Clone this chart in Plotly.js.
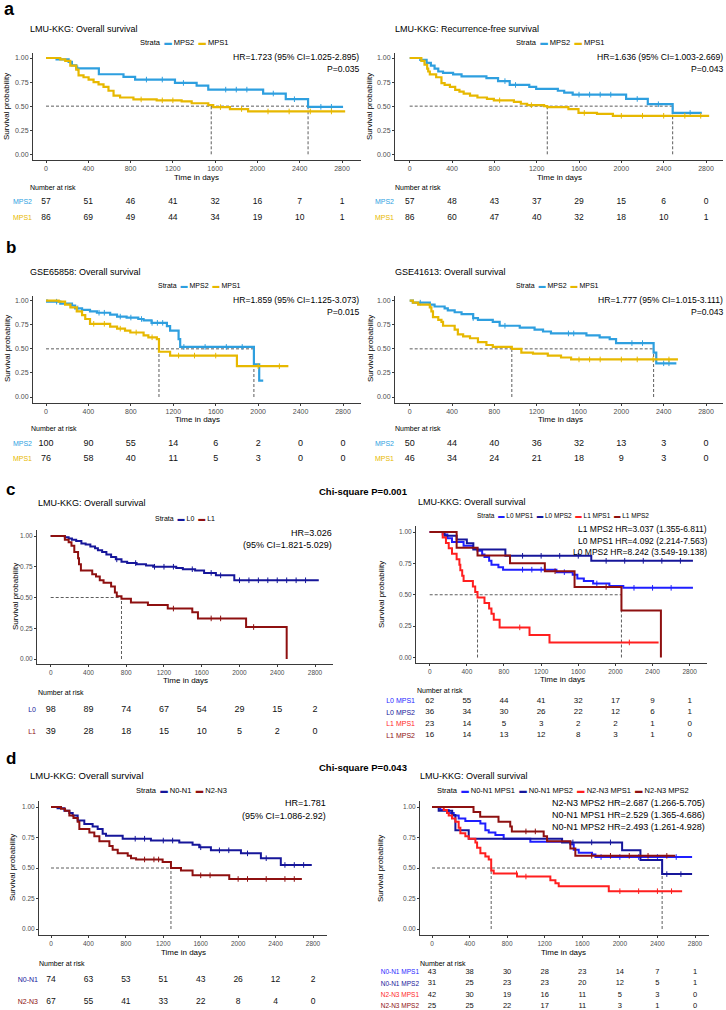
<!DOCTYPE html>
<html><head><meta charset="utf-8">
<script src="https://cdn.plot.ly/plotly-3.0.1.min.js"></script>
<style>html,body{margin:0;padding:0;background:#fff}#chart{width:726px;height:1010px}</style>
</head><body><div id="chart"></div>
<script>
// ---------------- DATA ----------------
const riskTimes = [0, 400, 800, 1200, 1600, 2000, 2400, 2800];
const yTicks = [0, 0.25, 0.5, 0.75, 1];

// a-left: LMU-KKG overall survival
const aL_MPS2_t = [0, 100, 214, 245, 286, 500, 733, 843, 1220, 1425, 1535, 2054, 2268, 2479, 2810];
const aL_MPS2_s = [1.00, 0.986, 0.96, 0.924, 0.893, 0.831, 0.803, 0.776, 0.741, 0.714, 0.672, 0.631, 0.572, 0.493, 0.493];
const aL_MPS2_c = [300, 950, 1100, 1300, 1700, 1800, 1900, 2150, 2350, 2600, 2700];
const aL_MPS1_t = [0, 135, 182, 230, 286, 308, 355, 403, 450, 497, 544, 591, 639, 701, 827, 1047, 1283, 1378, 1535, 1582, 1740, 1912, 2830];
const aL_MPS1_s = [1.00, 0.986, 0.97, 0.92, 0.88, 0.82, 0.80, 0.776, 0.75, 0.727, 0.70, 0.66, 0.61, 0.59, 0.57, 0.56, 0.55, 0.53, 0.51, 0.49, 0.47, 0.445, 0.445];
const aL_MPS1_c = [900, 1100, 1200, 1650, 1850, 2100, 2300, 2500, 2700];
const aL_risk_MPS2 = [57, 51, 46, 41, 32, 16, 7, 1];
const aL_risk_MPS1 = [86, 69, 49, 44, 34, 19, 10, 1];
const aL_medians = [1563, 2479];

// a-right: LMU-KKG recurrence-free survival
const aR_MPS2_t = [0, 100, 160, 200, 235, 270, 315, 410, 490, 725, 835, 945, 1130, 1195, 1400, 1460, 1540, 2045, 2250, 2485, 2760];
const aR_MPS2_s = [1.00, 0.98, 0.95, 0.92, 0.89, 0.86, 0.845, 0.83, 0.81, 0.79, 0.76, 0.72, 0.70, 0.68, 0.66, 0.64, 0.62, 0.575, 0.52, 0.43, 0.43];
const aR_MPS2_c = [900, 1000, 1600, 1700, 1800, 1900, 2150, 2350, 2650];
const aR_MPS1_t = [0, 110, 140, 165, 175, 190, 250, 300, 330, 380, 430, 470, 510, 570, 640, 730, 795, 985, 1050, 1110, 1270, 1300, 1500, 1595, 1770, 1920, 2830];
const aR_MPS1_s = [1.00, 0.97, 0.93, 0.89, 0.86, 0.83, 0.80, 0.74, 0.72, 0.70, 0.67, 0.65, 0.63, 0.61, 0.59, 0.575, 0.56, 0.545, 0.525, 0.51, 0.50, 0.49, 0.47, 0.43, 0.42, 0.40, 0.40];
const aR_MPS1_c = [850, 1150, 1650, 2000, 2200, 2400, 2600, 2750];
const aR_risk_MPS2 = [57, 48, 43, 37, 29, 15, 6, 0];
const aR_risk_MPS1 = [86, 60, 47, 40, 32, 18, 10, 1];
const aR_medians = [1300, 2485];

// b-left: GSE65858 overall survival
const bL_MPS2_t = [0, 10, 135, 245, 275, 340, 415, 480, 605, 670, 760, 870, 920, 995, 1140, 1170, 1250, 1265, 1960, 2010, 2048];
const bL_MPS2_s = [1.00, 0.99, 0.97, 0.95, 0.92, 0.905, 0.89, 0.875, 0.855, 0.835, 0.825, 0.81, 0.795, 0.77, 0.735, 0.69, 0.60, 0.52, 0.34, 0.17, 0.17];
const bL_MPS2_c = [100, 300, 500, 550, 700, 800, 900, 1000, 1050, 1100, 1300, 1500, 1700, 1850];
const bL_MPS1_t = [0, 120, 180, 230, 290, 340, 370, 415, 605, 670, 745, 795, 920, 965, 1045, 1065, 1170, 1800, 2285];
const bL_MPS1_s = [1.00, 0.99, 0.96, 0.93, 0.89, 0.85, 0.81, 0.76, 0.73, 0.71, 0.69, 0.67, 0.64, 0.62, 0.60, 0.47, 0.43, 0.32, 0.32];
const bL_MPS1_c = [450, 550, 700, 850, 1000, 1250, 1400, 1600, 2000, 2200];
const bL_risk_MPS2 = [100, 90, 55, 14, 6, 2, 0, 0];
const bL_risk_MPS1 = [76, 58, 40, 11, 5, 3, 0, 0];
const bL_medians = [1065, 1960];

// b-right: GSE41613 overall survival
const bR_MPS2_t = [0, 30, 190, 235, 330, 360, 425, 490, 600, 645, 785, 850, 1040, 1180, 1260, 1335, 1670, 1795, 1890, 1950, 2305, 2330, 2520];
const bR_MPS2_s = [1.00, 0.98, 0.96, 0.94, 0.92, 0.90, 0.88, 0.86, 0.82, 0.80, 0.78, 0.74, 0.72, 0.70, 0.68, 0.66, 0.64, 0.62, 0.60, 0.56, 0.46, 0.35, 0.35];
const bR_MPS2_c = [100, 600, 900, 1500, 1550, 2100, 2200, 2400, 2450];
const bR_MPS1_t = [0, 30, 80, 190, 205, 220, 270, 300, 315, 425, 455, 505, 570, 645, 725, 785, 965, 1055, 1165, 1305, 1430, 1525, 2535];
const bR_MPS1_s = [1.00, 0.98, 0.96, 0.93, 0.89, 0.83, 0.80, 0.78, 0.74, 0.70, 0.65, 0.63, 0.61, 0.57, 0.54, 0.52, 0.50, 0.46, 0.45, 0.43, 0.41, 0.39, 0.39];
const bR_MPS1_c = [1600, 1700, 1800, 2000, 2150, 2300, 2450];
const bR_risk_MPS2 = [50, 44, 40, 36, 32, 13, 3, 0];
const bR_risk_MPS1 = [46, 34, 24, 21, 18, 9, 3, 0];
const bR_medians = [965, 2305];

// c-left: LMU-KKG OS by L status
const cL_L0_t = [0, 150, 190, 225, 270, 325, 370, 420, 470, 500, 545, 590, 640, 690, 750, 810, 910, 1010, 1085, 1330, 1400, 1530, 1625, 1750, 1945, 2840];
const cL_L0_s = [1.00, 0.99, 0.98, 0.97, 0.96, 0.94, 0.93, 0.915, 0.90, 0.885, 0.87, 0.85, 0.83, 0.81, 0.79, 0.78, 0.77, 0.76, 0.75, 0.74, 0.73, 0.72, 0.70, 0.68, 0.64, 0.64];
const cL_L0_c = [700, 900, 1100, 1200, 1300, 1500, 1700, 1800, 2000, 2100, 2200, 2300, 2400, 2500, 2600, 2700];
const cL_L1_t = [0, 150, 190, 220, 250, 290, 300, 320, 440, 480, 520, 560, 640, 680, 700, 750, 850, 1030, 1240, 1500, 1560, 2070, 2500];
const cL_L1_s = [1.00, 0.97, 0.95, 0.92, 0.87, 0.82, 0.77, 0.72, 0.69, 0.67, 0.64, 0.62, 0.59, 0.54, 0.51, 0.49, 0.46, 0.44, 0.41, 0.38, 0.33, 0.26, 0.00];
const cL_L1_c = [1300, 1700, 1800, 2150];
const cL_risk_L0 = [98, 89, 74, 67, 54, 29, 15, 2];
const cL_risk_L1 = [39, 28, 18, 15, 10, 5, 2, 0];
const cL_medians = [750];

// c-right: LMU-KKG OS by L status and MPS
const cR_L0M1_t = [0, 140, 190, 240, 365, 465, 515, 565, 590, 640, 665, 740, 790, 1365, 1540, 1590, 1660, 1760, 1935, 2085, 2835];
const cR_L0M1_s = [1.00, 0.98, 0.95, 0.92, 0.89, 0.87, 0.85, 0.82, 0.80, 0.77, 0.74, 0.72, 0.70, 0.68, 0.66, 0.63, 0.61, 0.59, 0.57, 0.555, 0.555];
const cR_L0M1_c = [1000, 1100, 1200, 1450, 1800, 2200, 2400, 2600];
const cR_L0M2_t = [0, 160, 290, 400, 470, 815, 1740, 2835];
const cR_L0M2_s = [1.00, 0.97, 0.94, 0.91, 0.86, 0.81, 0.77, 0.77];
const cR_L0M2_c = [1000, 1200, 1400, 1600, 1900, 2100, 2300, 2500, 2700];
const cR_L1M1_t = [0, 140, 175, 205, 240, 290, 320, 330, 350, 365, 465, 490, 515, 590, 640, 665, 690, 753, 1075, 1290, 2465];
const cR_L1M1_s = [1.00, 0.957, 0.913, 0.870, 0.826, 0.783, 0.739, 0.696, 0.652, 0.609, 0.565, 0.522, 0.478, 0.435, 0.391, 0.348, 0.30, 0.24, 0.18, 0.12, 0.12];
const cR_L1M1_c = [970, 2150];
const cR_L1M2_t = [0, 290, 515, 865, 1240, 1560, 2065, 2490];
const cR_L1M2_s = [1.00, 0.875, 0.8125, 0.75, 0.6875, 0.5625, 0.375, 0.00];
const cR_L1M2_c = [1350, 1900];
const cR_risk_L0M1 = [62, 55, 44, 41, 32, 17, 9, 1];
const cR_risk_L0M2 = [36, 34, 30, 26, 22, 12, 6, 1];
const cR_risk_L1M1 = [23, 14, 5, 3, 2, 2, 1, 0];
const cR_risk_L1M2 = [16, 14, 13, 12, 8, 3, 1, 0];
const cR_medians = [515, 2065];

// d-left: LMU-KKG OS by N stage
const dL_N01_t = [0, 70, 143, 196, 232, 285, 356, 445, 499, 552, 588, 766, 1068, 1371, 1513, 1584, 1709, 2030, 2243, 2456, 2787];
const dL_N01_s = [1.00, 0.99, 0.97, 0.95, 0.93, 0.89, 0.86, 0.84, 0.82, 0.78, 0.765, 0.74, 0.725, 0.71, 0.69, 0.67, 0.645, 0.62, 0.58, 0.525, 0.525];
const dL_N01_c = [900, 1000, 1200, 1300, 1600, 1800, 1900, 2100, 2300, 2500, 2600, 2700];
const dL_N23_t = [0, 107, 150, 196, 240, 285, 303, 410, 463, 517, 624, 659, 713, 820, 855, 909, 1193, 1282, 1389, 1513, 1905, 2681];
const dL_N23_s = [1.00, 0.985, 0.97, 0.93, 0.91, 0.88, 0.82, 0.79, 0.76, 0.72, 0.68, 0.65, 0.62, 0.60, 0.58, 0.57, 0.55, 0.50, 0.48, 0.44, 0.41, 0.41];
const dL_N23_c = [1000, 1100, 1150, 1600, 1700, 2000, 2100, 2300, 2500, 2600];
const dL_risk_N01 = [74, 63, 53, 51, 43, 26, 12, 2];
const dL_risk_N23 = [67, 55, 41, 33, 22, 8, 4, 0];
const dL_medians = [1282];

// d-right: LMU-KKG OS by N stage and MPS
const dR_N01M1_t = [0, 89, 178, 231, 284, 355, 515, 568, 604, 675, 763, 1047, 1473, 1509, 1562, 1704, 1740, 2769];
const dR_N01M1_s = [1.00, 0.975, 0.95, 0.93, 0.905, 0.886, 0.864, 0.81, 0.79, 0.77, 0.74, 0.715, 0.695, 0.65, 0.625, 0.61, 0.59, 0.59];
const dR_N01M1_c = [1800, 2000, 2200, 2400, 2600];
const dR_N01M2_t = [0, 71, 215, 249, 391, 1385, 2024, 2219, 2450, 2769];
const dR_N01M2_s = [1.00, 0.97, 0.935, 0.81, 0.74, 0.71, 0.645, 0.565, 0.45, 0.45];
const dR_N01M2_c = [1500, 1700, 1900, 2500, 2650];
const dR_N23M1_t = [0, 125, 160, 178, 213, 249, 284, 302, 355, 391, 462, 480, 515, 568, 604, 630, 657, 905, 1260, 1314, 1349, 1882, 2663];
const dR_N23M1_s = [1.00, 0.976, 0.95, 0.93, 0.905, 0.88, 0.83, 0.785, 0.76, 0.74, 0.71, 0.665, 0.62, 0.595, 0.57, 0.48, 0.455, 0.43, 0.40, 0.375, 0.35, 0.31, 0.31];
const dR_N23M1_c = [900, 1000, 2000, 2200, 2400, 2550];
const dR_N23M2_t = [0, 442, 513, 708, 833, 850, 1189, 1225, 1473, 1526, 2590];
const dR_N23M2_s = [1.00, 0.96, 0.92, 0.88, 0.84, 0.80, 0.76, 0.72, 0.66, 0.60, 0.60];
const dR_N23M2_c = [1000, 1100, 1700, 1900, 2100, 2300, 2500];
const dR_risk_N01M1 = [43, 38, 30, 28, 23, 14, 7, 1];
const dR_risk_N01M2 = [31, 25, 23, 23, 20, 12, 5, 1];
const dR_risk_N23M1 = [42, 30, 19, 16, 11, 5, 3, 0];
const dR_risk_N23M2 = [25, 25, 22, 17, 11, 3, 1, 0];
const dR_medians = [630, 2450];

// ---------------- STYLE / LAYOUT ----------------
const W = 726, H = 1010;
const FONT = 'Liberation Sans, Arial, Helvetica, sans-serif';
const COL = {MPS2: '#2E9FDF', MPS1: '#E7B800', L0: '#16169A', L1: '#8E1010',
  blue: '#1F1FFF', navy: '#16169A', red: '#FF1F1F', dred: '#8E1010'};

function cv(name, t, s, c, risk, color) { return {name, t, s, c, risk, color}; }

const panels = [
  {xDom: [33, 361], px0: 46, px2800: 342, yDom: [53, 160], py1: 58, py0: 154.3, lw: 2.2, tick: 7,
   riskRows: [202, 218], riskNum: 8.5, riskLab: 7, medians: aL_medians,
   curves: [cv('MPS2', aL_MPS2_t, aL_MPS2_s, aL_MPS2_c, aL_risk_MPS2, COL.MPS2), cv('MPS1', aL_MPS1_t, aL_MPS1_s, aL_MPS1_c, aL_risk_MPS1, COL.MPS1)]},
  {xDom: [395, 723], px0: 409.7, px2800: 706, yDom: [53, 160], py1: 58, py0: 154.3, lw: 2.2, tick: 7,
   riskRows: [202, 218], riskNum: 8.5, riskLab: 7, medians: aR_medians,
   curves: [cv('MPS2', aR_MPS2_t, aR_MPS2_s, aR_MPS2_c, aR_risk_MPS2, COL.MPS2), cv('MPS1', aR_MPS1_t, aR_MPS1_s, aR_MPS1_c, aR_risk_MPS1, COL.MPS1)]},
  {xDom: [33, 361], px0: 46, px2800: 343, yDom: [296, 402.7], py1: 300.7, py0: 397, lw: 2.2, tick: 7,
   riskRows: [444, 459], riskNum: 9, riskLab: 7, medians: bL_medians,
   curves: [cv('MPS2', bL_MPS2_t, bL_MPS2_s, bL_MPS2_c, bL_risk_MPS2, COL.MPS2), cv('MPS1', bL_MPS1_t, bL_MPS1_s, bL_MPS1_c, bL_risk_MPS1, COL.MPS1)]},
  {xDom: [395, 723], px0: 409.7, px2800: 706, yDom: [296, 402.7], py1: 300.7, py0: 397, lw: 2.2, tick: 7,
   riskRows: [444, 459], riskNum: 9, riskLab: 7, medians: bR_medians,
   curves: [cv('MPS2', bR_MPS2_t, bR_MPS2_s, bR_MPS2_c, bR_risk_MPS2, COL.MPS2), cv('MPS1', bR_MPS1_t, bR_MPS1_s, bR_MPS1_c, bR_risk_MPS1, COL.MPS1)]},
  {xDom: [37, 333], px0: 50.7, px2800: 315, yDom: [530, 664], py1: 536, py0: 659, lw: 2, tick: 6.5,
   riskRows: [710, 732], riskNum: 9, riskLab: 7, medians: cL_medians,
   curves: [cv('L0', cL_L0_t, cL_L0_s, cL_L0_c, cL_risk_L0, COL.L0), cv('L1', cL_L1_t, cL_L1_s, cL_L1_c, cL_risk_L1, COL.L1)]},
  {xDom: [416, 707], px0: 429.7, px2800: 689.7, yDom: [526, 663], py1: 532, py0: 657.5, lw: 2, tick: 6.5,
   riskRows: [701, 712.5, 724, 735.5], riskNum: 8, riskLab: 7, medians: cR_medians,
   curves: [cv('L0 MPS1', cR_L0M1_t, cR_L0M1_s, cR_L0M1_c, cR_risk_L0M1, COL.blue), cv('L0 MPS2', cR_L0M2_t, cR_L0M2_s, cR_L0M2_c, cR_risk_L0M2, COL.navy),
            cv('L1 MPS1', cR_L1M1_t, cR_L1M1_s, cR_L1M1_c, cR_risk_L1M1, COL.red), cv('L1 MPS2', cR_L1M2_t, cR_L1M2_s, cR_L1M2_c, cR_risk_L1M2, COL.dred)]},
  {xDom: [39, 327], px0: 51, px2800: 313, yDom: [801, 935], py1: 807, py0: 929, lw: 2, tick: 6.5,
   riskRows: [980, 1002], riskNum: 8.5, riskLab: 7, medians: dL_medians,
   curves: [cv('N0-N1', dL_N01_t, dL_N01_s, dL_N01_c, dL_risk_N01, COL.navy), cv('N2-N3', dL_N23_t, dL_N23_s, dL_N23_c, dL_risk_N23, COL.dred)]},
  {xDom: [420, 709], px0: 432, px2800: 695, yDom: [801, 935], py1: 807, py0: 929, lw: 2, tick: 6.5,
   riskRows: [972, 983.5, 995, 1006], riskNum: 7.5, riskLab: 6.5, medians: dR_medians,
   curves: [cv('N0-N1 MPS1', dR_N01M1_t, dR_N01M1_s, dR_N01M1_c, dR_risk_N01M1, COL.blue), cv('N0-N1 MPS2', dR_N01M2_t, dR_N01M2_s, dR_N01M2_c, dR_risk_N01M2, COL.navy),
            cv('N2-N3 MPS1', dR_N23M1_t, dR_N23M1_s, dR_N23M1_c, dR_risk_N23M1, COL.red), cv('N2-N3 MPS2', dR_N23M2_t, dR_N23M2_s, dR_N23M2_c, dR_risk_N23M2, COL.dred)]}
];

const traces = [];
const layout = {width: W, height: H, margin: {l: 0, r: 0, t: 0, b: 0}, paper_bgcolor: '#fff', plot_bgcolor: 'rgba(0,0,0,0)',
  showlegend: false, font: {family: FONT, color: '#000'}, annotations: []};

function suf(k) { return k === 1 ? '' : String(k); }
function stepAt(t, s, v) { let y = s[0]; for (let i = 0; i < t.length; i++) { if (t[i] <= v) y = s[i]; } return y; }

panels.forEach((P, idx) => {
  const kp = 2 * idx + 1, kr = 2 * idx + 2;
  const xa = 'x' + suf(kp), ya = 'y' + suf(kp), xr = 'x' + suf(kr), yr = 'y' + suf(kr);
  const ppd = (P.px2800 - P.px0) / 2800;
  const xRange = [(P.xDom[0] - P.px0) / ppd, (P.xDom[1] - P.px0) / ppd];
  const ppu = P.py0 - P.py1;
  const yRange = [(P.py0 - P.yDom[1]) / ppu, (P.py0 - P.yDom[0]) / ppu];
  const xdom = [P.xDom[0] / W, P.xDom[1] / W];
  const axCommon = {showline: true, linecolor: '#3a3a3a', linewidth: 1, ticks: 'outside', ticklen: 2, tickcolor: '#3a3a3a',
    showgrid: false, zeroline: false, fixedrange: true, tickfont: {size: P.tick, color: '#4d4d4d', family: FONT}};
  layout['xaxis' + suf(kp)] = Object.assign({}, axCommon, {domain: xdom, range: xRange, anchor: ya, tickvals: riskTimes, ticktext: riskTimes.map(String)});
  layout['yaxis' + suf(kp)] = Object.assign({}, axCommon, {domain: [1 - P.yDom[1] / H, 1 - P.yDom[0] / H], range: yRange, anchor: xa,
    tickvals: yTicks, ticktext: yTicks.map(v => v.toFixed(2))});
  // medians
  const mMax = Math.max(...P.medians);
  const mX = [0, mMax], mY = [0.5, 0.5];
  P.medians.forEach(m => { mX.push(null, m, m); mY.push(null, 0, 0.5); });
  traces.push({type: 'scatter', x: mX, y: mY, xaxis: xa, yaxis: ya, mode: 'lines', line: {color: '#333', width: 0.8, dash: '3px,2px'}, hoverinfo: 'skip'});
  // curves
  P.curves.forEach(c => {
    traces.push({type: 'scatter', x: c.t, y: c.s, xaxis: xa, yaxis: ya, mode: 'lines', line: {shape: 'hv', color: c.color, width: P.lw}, hoverinfo: 'skip'});
    traces.push({type: 'scatter', x: c.c, y: c.c.map(v => stepAt(c.t, c.s, v)), xaxis: xa, yaxis: ya, mode: 'markers',
      marker: {symbol: 'line-ns-open', size: 4, color: c.color, line: {color: c.color, width: 1}}, hoverinfo: 'skip'});
  });
  // risk table
  const n = P.curves.length;
  const first = P.riskRows[0], last = P.riskRows[n - 1];
  const k = (last - first) / (n - 1);
  const top = first - k * 0.6, bot = Math.min(last + k * 0.6, H - 1);
  const yhi = (last - top) / k, ylo = yhi - (bot - top) / k;
  layout['xaxis' + suf(kr)] = {domain: xdom, range: xRange, anchor: yr, visible: false, fixedrange: true};
  layout['yaxis' + suf(kr)] = {domain: [1 - bot / H, 1 - top / H], range: [ylo, yhi], anchor: xr, showline: false, showgrid: false,
    zeroline: false, ticks: '', fixedrange: true, tickvals: P.curves.map((c, i) => n - 1 - i),
    ticktext: P.curves.map(c => '<span style="color:' + c.color + '">' + c.name + '</span>'),
    tickfont: {size: P.riskLab, family: FONT}};
  P.curves.forEach((c, i) => {
    traces.push({type: 'scatter', x: riskTimes, y: riskTimes.map(() => n - 1 - i), text: c.risk.map(String), xaxis: xr, yaxis: yr,
      mode: 'text', textposition: 'middle center', textfont: {size: P.riskNum, color: '#111', family: FONT}, cliponaxis: false, hoverinfo: 'skip'});
  });
});

// ---------------- TEXT ----------------
function A(text, x, y, size, opt) {
  layout.annotations.push(Object.assign({text: text, x: x / W, y: 1 - y / H, xref: 'paper', yref: 'paper', showarrow: false,
    xanchor: 'left', yanchor: 'middle', borderpad: 0, font: {size: size, family: FONT, color: '#000'}}, opt || {}));
}
function legendText(curves) {
  return 'Strata\u00a0\u00a0' + curves.map(c => '<span style="color:' + c.color + '">\u25ac</span>\u00a0' + c.name).join('\u00a0\u00a0');
}
function yTitle(x, y, size) { A('Survival probability', x, y, size, {textangle: -90, xanchor: 'center'}); }
function xTitle(x, y, size) { A('Time in days', x, y, size, {xanchor: 'center', yanchor: 'top'}); }

// panel letters
A('<b>a</b>', 3, 9, 18); A('<b>b</b>', 5, 247, 17); A('<b>c</b>', 5, 489, 17); A('<b>d</b>', 5, 758, 17);

// a
A('LMU-KKG: Overall survival', 29, 29, 9);
A('LMU-KKG: Recurrence-free survival', 394, 29, 9);
A(legendText(panels[0].curves), 184, 42, 7.5, {xanchor: 'center'});
A(legendText(panels[1].curves), 560, 42, 7.5, {xanchor: 'center'});
A('HR=1.723 (95% CI=1.025-2.895)', 360, 57, 8.6, {xanchor: 'right'});
A('P=0.035', 360, 69, 8.6, {xanchor: 'right'});
A('HR=1.636 (95% CI=1.003-2.669)', 724, 57, 8.6, {xanchor: 'right'});
A('P=0.043', 724, 69, 8.6, {xanchor: 'right'});
yTitle(7, 107, 8); yTitle(370, 107, 8);
xTitle(196, 171.5, 8); xTitle(559, 171.5, 8);
A('Number at risk', 29, 188, 7); A('Number at risk', 394, 188, 7);

// b
A('GSE65858: Overall survival', 29, 272, 9);
A('GSE41613: Overall survival', 394, 272, 9);
A(legendText(panels[2].curves), 199, 285, 7, {xanchor: 'center'});
A(legendText(panels[3].curves), 557, 285, 7, {xanchor: 'center'});
A('HR=1.859 (95% CI=1.125-3.073)', 360, 300, 8.6, {xanchor: 'right'});
A('P=0.015', 360, 312, 8.6, {xanchor: 'right'});
A('HR=1.777 (95% CI=1.015-3.111)', 724, 300, 8.6, {xanchor: 'right'});
A('P=0.043', 724, 312, 8.6, {xanchor: 'right'});
yTitle(7, 349, 8); yTitle(370, 349, 8);
xTitle(197, 414, 8); xTitle(560, 414, 8);
A('Number at risk', 30, 429, 7); A('Number at risk', 394, 429, 7);

// c
A('<b>Chi-square P=0.001</b>', 363, 491, 9.5, {xanchor: 'center'});
A('LMU-KKG: Overall survival', 37, 503, 9);
A('LMU-KKG: Overall survival', 417, 502, 9);
A(legendText(panels[4].curves), 185, 518, 7, {xanchor: 'center'});
A(legendText(panels[5].curves), 563, 515, 6.5, {xanchor: 'center'});
A('HR=3.026', 333, 533, 9, {xanchor: 'right'});
A('(95% CI=1.821-5.029)', 333, 545, 9, {xanchor: 'right'});
A('L1 MPS2 HR=3.037 (1.355-6.811)', 708, 529, 8.5, {xanchor: 'right'});
A('L0 MPS1 HR=4.092 (2.214-7.563)', 708, 540.5, 8.5, {xanchor: 'right'});
A('L0 MPS2 HR=8.242 (3.549-19.138)', 708, 552, 8.5, {xanchor: 'right'});
yTitle(15, 597, 8); yTitle(381, 595, 8);
xTitle(185, 675, 8); xTitle(562, 674, 8);
A('Number at risk', 37, 692, 7); A('Number at risk', 416, 690, 7);

// d
A('<b>Chi-square P=0.043</b>', 363, 767, 9.5, {xanchor: 'center'});
A('LMU-KKG: Overall survival', 29, 775, 9.5);
A('LMU-KKG: Overall survival', 419, 776, 9);
A(legendText(panels[6].curves), 182, 790, 7.5, {xanchor: 'center'});
A(legendText(panels[7].curves), 563, 790, 7.5, {xanchor: 'center'});
A('HR=1.781', 327, 803, 9, {xanchor: 'right'});
A('(95% CI=1.086-2.92)', 327, 816, 9, {xanchor: 'right'});
A('N2-N3 MPS2 HR=2.687 (1.266-5.705)', 706, 803, 9, {xanchor: 'right'});
A('N0-N1 MPS1 HR=2.529 (1.365-4.686)', 706, 815, 9, {xanchor: 'right'});
A('N0-N1 MPS2 HR=2.493 (1.261-4.928)', 706, 827, 9, {xanchor: 'right'});
yTitle(12, 868, 8); yTitle(380, 868, 8);
xTitle(183, 947, 8); xTitle(563, 947, 8);
A('Number at risk', 38, 963, 7); A('Number at risk', 419, 963, 7);

Plotly.newPlot('chart', traces, layout, {staticPlot: true, displayModeBar: false});
</script>
</body></html>
